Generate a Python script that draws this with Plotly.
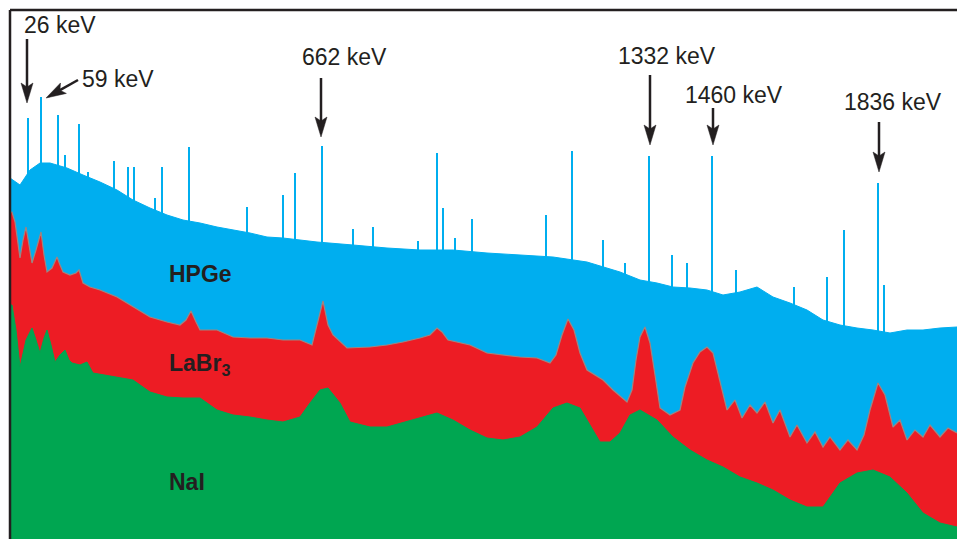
import math
import plotly.graph_objects as go

# ---------------- data (channel, counts; arbitrary units) ----------------
HPGE_CH = [0, 10, 20, 30, 40, 57, 73, 90, 107, 123, 140, 157, 173, 190, 207, 223, 240, 257, 273,
           290, 307, 343, 377, 410, 443, 477, 510, 543, 577, 610, 630, 647, 663, 680, 697, 713,
           730, 747, 763, 780, 797, 813, 830, 847, 863, 880, 897, 913, 930, 947]
HPGE_CT = [361, 354, 369, 376, 376, 371, 364, 357, 349, 339, 331, 324, 319, 316, 312, 309, 306, 302, 301,
           299, 297, 294, 291, 289, 289, 286, 284, 282, 277, 267, 259, 256, 252, 251, 249, 244,
           247, 252, 242, 236, 229, 219, 214, 211, 209, 206, 209, 209, 211, 212]

# HPGe photopeak lines
LINE_CH = [18, 31, 48, 55, 69, 78, 104, 118, 124, 145, 152, 179, 237, 273, 285, 312, 343, 363,
           408, 427, 433, 445, 462, 536, 562, 593, 615, 639, 662, 677, 702, 726, 784, 817, 834,
           868, 874]
LINE_CT = [421, 442, 424, 384, 415, 367, 378, 372, 372, 341, 372, 392, 332, 344, 366, 393, 310, 312,
           298, 386, 331, 301, 320, 324, 388, 299, 276, 383, 284, 276, 383, 269, 252, 262, 309,
           356, 254]

LABR_CH = [0, 2, 5, 8, 10, 13, 16, 19, 22, 26, 31, 34, 37, 42, 47, 50, 53, 60, 66, 69, 73, 80, 90,
           107, 123, 140, 157, 170, 176, 181, 186, 190, 207, 223, 240, 257, 273, 290, 302, 307, 313,
           318, 323, 337, 360, 377, 393, 410, 420, 427, 432, 438, 460, 477, 510, 527, 540, 546, 552,
           558, 564, 570, 577, 593, 603, 617, 622, 626, 630, 635, 640, 645, 650, 660, 670, 675, 683,
           690, 697, 703, 710, 717, 725, 732, 740, 747, 755, 763, 770, 780, 787, 797, 805, 813, 820,
           830, 838, 847, 854, 860, 868, 875, 883, 890, 897, 905, 913, 920, 930, 938, 947]
LABR_CT = [327, 327, 317, 294, 281, 299, 312, 294, 276, 289, 307, 284, 267, 271, 282, 274, 267, 264,
           266, 269, 256, 252, 249, 242, 232, 222, 217, 214, 219, 228, 217, 209, 209, 202, 201, 201,
           199, 199, 194, 214, 238, 214, 204, 191, 192, 194, 197, 201, 204, 211, 207, 199, 194, 186,
           182, 181, 176, 184, 204, 220, 209, 186, 169, 159, 149, 137, 149, 179, 202, 212, 196, 164,
           131, 124, 129, 152, 176, 187, 192, 186, 156, 129, 139, 121, 134, 126, 137, 116, 129, 102,
           114, 96, 107, 92, 102, 89, 99, 89, 104, 129, 156, 144, 112, 119, 99, 109, 102, 114, 102,
           111, 106]

NAI_CH = [0, 2, 6, 10, 16, 22, 26, 30, 34, 37, 41, 45, 50, 55, 59, 62, 70, 77, 83, 107, 123, 140,
          157, 173, 190, 207, 223, 240, 257, 273, 290, 300, 310, 318, 330, 340, 360, 377, 410, 427,
          443, 460, 477, 493, 510, 527, 543, 557, 570, 583, 590, 600, 610, 620, 630, 647, 663, 680,
          697, 713, 730, 747, 763, 780, 797, 813, 830, 847, 863, 880, 897, 913, 930, 947]
NAI_CT = [234, 234, 209, 172, 199, 211, 199, 186, 201, 209, 194, 177, 184, 189, 179, 176, 174, 177,
          166, 162, 159, 147, 142, 141, 141, 129, 124, 122, 119, 117, 122, 136, 149, 151, 136, 117,
          112, 112, 121, 126, 119, 109, 101, 99, 102, 112, 131, 136, 131, 109, 97, 97, 106, 124,
          129, 119, 102, 89, 79, 72, 62, 56, 49, 39, 32, 32, 56, 66, 69, 62, 46, 26, 16, 12]

PEAK_LABELS = ["26 keV", "59 keV", "662 keV", "1332 keV", "1460 keV", "1836 keV"]
PEAK_CH = [18, 31, 312, 639, 702, 868]
PEAK_CT = [421, 442, 393, 383, 383, 356]

DETECTORS = ["HPGe", "LaBr<sub>3</sub>", "NaI"]

# ---------------- style ----------------
BLUE = "#00aeef"
RED = "#ed1c24"
GREEN = "#00a651"
INK = "#231f20"
FONT = "Liberation Sans, Arial, Helvetica, sans-serif"

# pixel offsets (up positive) relative to each labelled peak
ARROW_TAIL = [(-1, 79), (37, 17), (-1, 68), (1, 81), (1, 48), (1, 61)]
ARROW_TIP = [(-1, 15), (5, -1), (-1, 9), (1, 11), (1, 11), (1, 11)]
LABEL_OFF = [(32, 93), (77, 18.5), (22, 89), (18, 100.5), (22, 61.5), (15, 81.5)]
DET_POS = [(157, 265.5), (157, 175), (157, 57)]  # (channel, count) anchors for detector names

fig = go.Figure()
fig.add_trace(go.Bar(x=LINE_CH, y=LINE_CT, width=2, marker=dict(color=BLUE, line=dict(width=0)),
                     hoverinfo="skip"))
fig.add_trace(go.Scatter(x=HPGE_CH, y=HPGE_CT, mode="lines", fill="tozeroy", fillcolor=BLUE,
                         line=dict(color=BLUE, width=1), hoverinfo="skip"))
fig.add_trace(go.Scatter(x=LABR_CH, y=LABR_CT, mode="lines", fill="tozeroy", fillcolor=RED,
                         line=dict(color="#a08580", width=1.2), hoverinfo="skip"))
fig.add_trace(go.Scatter(x=NAI_CH, y=NAI_CT, mode="lines", fill="tozeroy", fillcolor=GREEN,
                         line=dict(color=GREEN, width=1), hoverinfo="skip"))

shapes = []
annotations = []
HEAD_L, HEAD_W, NOTCH = 20, 6, 4
for i, lab in enumerate(PEAK_LABELS):
    tx, ty = ARROW_TAIL[i]
    px, py = ARROW_TIP[i]
    dx, dy = px - tx, py - ty
    n = math.hypot(dx, dy)
    ux, uy = dx / n, dy / n
    nx, ny = -uy, ux
    bx, by = px - ux * HEAD_L, py - uy * HEAD_L
    cx, cy = px - ux * (HEAD_L - NOTCH), py - uy * (HEAD_L - NOTCH)
    shapes.append(dict(type="line", xref="x", yref="y", xsizemode="pixel", ysizemode="pixel",
                       xanchor=PEAK_CH[i], yanchor=PEAK_CT[i], x0=tx, y0=ty, x1=cx, y1=cy,
                       line=dict(color=INK, width=2.5)))
    path = "M{:.2f},{:.2f} L{:.2f},{:.2f} L{:.2f},{:.2f} L{:.2f},{:.2f} Z".format(
        px, py, bx + nx * HEAD_W, by + ny * HEAD_W, cx, cy, bx - nx * HEAD_W, by - ny * HEAD_W)
    shapes.append(dict(type="path", xref="x", yref="y", xsizemode="pixel", ysizemode="pixel",
                       xanchor=PEAK_CH[i], yanchor=PEAK_CT[i], path=path,
                       fillcolor=INK, line=dict(color=INK, width=0.5)))
    lx, ly = LABEL_OFF[i]
    annotations.append(dict(x=PEAK_CH[i], y=PEAK_CT[i], xref="x", yref="y", text=lab,
                            showarrow=False, xshift=lx, yshift=ly, xanchor="center",
                            yanchor="middle", font=dict(family=FONT, size=23, color=INK)))

for name, (cx, cy) in zip(DETECTORS, DET_POS):
    annotations.append(dict(x=cx, y=cy, xref="x", yref="y", text="<b>" + name + "</b>",
                            showarrow=False, xanchor="left", yanchor="middle",
                            font=dict(family=FONT, size=23, color=INK)))

# frame (left and top edges)
shapes.append(dict(type="line", xref="paper", yref="paper", x0=0, x1=0, y0=-0.02, y1=1,
                   line=dict(color=INK, width=2.5)))
shapes.append(dict(type="line", xref="paper", yref="paper", x0=0, x1=1.01, y0=1, y1=1,
                   line=dict(color=INK, width=2.5)))

fig.update_layout(
    width=957, height=539,
    margin=dict(l=10, r=0, t=10, b=0),
    paper_bgcolor="white", plot_bgcolor="white",
    showlegend=False,
    xaxis=dict(range=[0, 947], visible=False, fixedrange=True),
    yaxis=dict(range=[0, 529], visible=False, fixedrange=True),
    shapes=shapes, annotations=annotations,
    bargap=0,
)

fig.write_html(
    "out.html",
    config={"displayModeBar": False},
    post_script="document.body.style.margin='0';document.body.style.overflow='hidden';",
)
